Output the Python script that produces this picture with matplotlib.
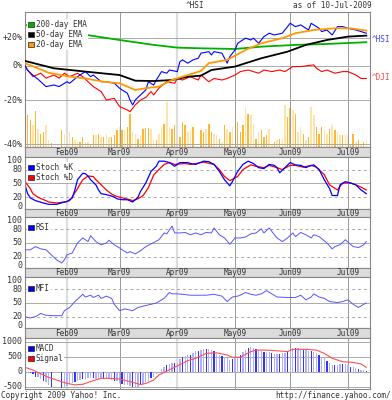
import numpy as np
import pandas as pd
import matplotlib
matplotlib.use('Agg')
import matplotlib.pyplot as plt
import matplotlib.ticker as mticker
from matplotlib.patches import Patch

# trading sessions (weekdays) shown on the x axis
sessions = pd.bdate_range('2009-01-09', '2009-07-10')
month_names = ['Feb09', 'Mar09', 'Apr09', 'May09', 'Jun09', 'Jul09']

# ^HSI and ^DJI, % change since first session
hsi_day = [0, 1, 3, 5, 8, 11, 13, 16, 17, 20, 22, 23, 25, 26, 29, 31, 34, 36, 37, 39, 40, 41, 42,
           44, 46, 47, 49, 50, 52, 54, 55, 58, 59, 60, 62, 64, 66, 67, 70, 71, 72, 75, 77, 78, 80,
           81, 84, 86, 87, 89, 91, 93, 95, 98, 101, 103, 105, 108, 109, 110, 112, 113, 115, 117,
           119, 121, 123, 126, 128, 130]
hsi_pct = [0, -3, -6, -8.5, -12.7, -11.8, -12.7, -9.9, -10.8, -6.9, -4.8, -3.8, -6.9, -5.9, -9.9,
           -9.9, -10.8, -13.6, -14.6, -16.4, -20, -22.5, -20, -17.3, -14.6, -9.9, -11.8, -8.9, -3.8,
           -4.8, -2.8, -3.8, 2.6, 3.8, 1.6, 3.8, 4.9, 8.4, 9.5, 7.2, 9.5, 8.4, 1.6, 6, 10.7, 15.6,
           19.5, 18.1, 19.5, 15.6, 20.7, 23.4, 22, 23.4, 31.6, 28.8, 30.2, 26, 31.6, 30.2, 27.4,
           24.7, 26, 22, 28.8, 28.8, 27.4, 26, 24.7, 23.4]

dji_day = [0, 1, 3, 6, 8, 11, 13, 15, 17, 20, 22, 24, 26, 29, 31, 34, 36, 39, 40, 42, 44, 46, 48,
           49, 51, 54, 57, 58, 60, 63, 66, 67, 70, 72, 75, 77, 80, 82, 85, 87, 89, 91, 94, 97, 99,
           102, 105, 110, 111, 113, 115, 118, 121, 123, 126, 128, 130]
dji_pct = [0, -2.8, -6.9, -4.8, -7.8, -5.9, -7.8, -4.8, -6.9, -4.8, -6.9, -9.9, -12.7, -15.5, -20,
           -19.1, -23.3, -25, -25.8, -22.5, -20, -18.6, -15.5, -17.3, -13.6, -9.9, -10.8, -8, -8.9,
           -6.9, -8.9, -5.9, -9.9, -8, -8.9, -8, -5.9, -3.8, -2.8, -3.8, -4.8, -2.8, -3.8, -2.8,
           -3.8, -0.6, -0.6, 0.5, -1.7, -3.8, -2.8, -4.8, -3.8, -3.8, -5.9, -8, -8]

ema200_day = [0, 10, 21, 36, 49, 58, 67, 80, 90, 103, 115, 130]
ema200_pct = [30.2, 26.5, 22.8, 18.1, 14.4, 12.4, 11.9, 11.4, 13.1, 14.4, 15.1, 16.4]
ema50_day = [0, 11, 23, 36, 42, 49, 56, 62, 67, 71, 80, 90, 100, 107, 115, 123, 130]
ema50_pct = [3.1, -1.7, -3.8, -5.9, -9.3, -9.5, -8.9, -6.9, -6.3, -2.8, -0.6, 4.9, 9.5, 14.4,
             18.1, 20.7, 21.5]
ema20_day = [0, 9, 17, 23, 30, 36, 42, 46, 51, 56, 62, 67, 70, 77, 84, 90, 98, 103, 110, 118,
             124, 130]
ema20_pct = [1.6, -4.5, -6.9, -8, -9.9, -10.8, -14.6, -13.6, -12.7, -8.9, -5.9, -3.4, 1.6, 3.8,
             10.7, 15.6, 19.5, 23.4, 26, 27.4, 27.4, 25.5]

# daily volume (relative units), one per session; tone: d = up day, l = down day
volume = [35, 32, 27, 22, 36, 18, 13, 15, 22, 7, 4, 0, 0, 0,
          17, 13, 8, 15, 10, 7, 5, 5, 10, 5, 5, 3, 12, 12, 13, 10, 10, 13, 10, 10, 12, 17, 20, 17,
          18, 20, 33, 15, 13, 8, 12, 18, 19, 19, 18, 8, 7, 13, 20, 23, 45, 20, 18, 22, 17, 10, 25,
          22, 15, 17, 20, 0, 0,
          17, 15, 18, 23, 15, 13, 12, 8, 5, 22, 18, 15, 20, 0, 25, 15, 22, 40, 33, 32, 23, 8, 15,
          17, 10, 12, 18, 3, 5,
          7, 8, 8, 42, 30, 39, 37, 33, 15, 20, 13, 7, 10, 40, 32, 20, 13, 20, 17, 13, 18, 22, 17,
          15, 12, 12, 13, 12, 3, 13, 5, 7, 3, 5, 7]
volume_tone = ("lddldlddll" "dllldldldl" "lddllddldl" "dlldddldld" "dlldldddll" "dlldllddld"
               "ddlldllddl" "ddlldldldl" "ldddldlldl" "dddlldldll" "ddldlldldl" "ldddlldldl"
               "ldllddldld" "l")

# Stochastic %K / %D
stk_day = [0, 1, 2, 4, 7, 9, 12, 15, 16, 18, 19, 20, 22, 23, 24, 25, 27, 28, 29, 31, 34, 35, 37,
           39, 41, 42, 43, 44, 46, 48, 50, 51, 53, 55, 57, 59, 62, 63, 65, 68, 70, 72, 74, 76, 78,
           79, 81, 83, 85, 87, 89, 91, 93, 95, 96, 97, 99, 101, 103, 105, 107, 108, 110, 112, 114,
           116, 117, 119, 120, 122, 124, 126, 128, 130]
stk_val = [47, 28, 19, 13, 8, 5, 5, 10, 11, 19, 36, 58, 72, 71, 66, 58, 47, 36, 28, 26, 21, 17, 15,
           15, 10, 15, 20, 33, 51, 76, 87, 98, 98, 95, 87, 95, 95, 93, 91, 98, 97, 91, 76, 58, 45,
           54, 76, 91, 98, 93, 84, 82, 91, 89, 84, 73, 84, 95, 90, 89, 84, 87, 90, 80, 58, 39, 24,
           24, 47, 54, 51, 47, 36, 28]
std_day = [0, 2, 3, 5, 8, 9, 12, 15, 17, 18, 20, 22, 24, 26, 27, 29, 31, 33, 35, 37, 40, 41, 43,
           45, 47, 49, 51, 53, 55, 57, 59, 61, 63, 68, 72, 74, 76, 78, 81, 83, 86, 88, 91, 93, 96,
           98, 101, 103, 106, 109, 111, 114, 116, 119, 121, 124, 126, 128, 130]
std_val = [54, 39, 28, 20, 13, 10, 8, 10, 13, 21, 39, 58, 66, 65, 58, 47, 36, 27, 22, 19, 15, 13,
           17, 24, 41, 68, 80, 91, 95, 91, 92, 93, 91, 96, 91, 80, 65, 56, 65, 80, 90, 87, 84, 89,
           84, 80, 89, 89, 85, 89, 85, 69, 47, 36, 51, 51, 47, 42, 36]

# RSI
rsi_day = [0, 2, 4, 6, 8, 10, 12, 14, 15, 16, 18, 20, 22, 24, 25, 27, 29, 31, 32, 34, 36, 37, 39,
           40, 42, 44, 46, 49, 51, 53, 54, 56, 57, 59, 61, 63, 65, 67, 69, 71, 72, 74, 76, 78, 80,
           82, 84, 86, 88, 90, 91, 93, 95, 96, 98, 100, 102, 103, 105, 107, 109, 110, 112, 115,
           117, 118, 120, 122, 125, 127, 129, 130]
rsi_val = [35, 35, 42, 37, 35, 24, 13, 6, 13, 24, 28, 50, 61, 53, 66, 53, 46, 50, 56, 46, 39, 35,
           28, 31, 26, 33, 42, 51, 57, 72, 70, 87, 72, 72, 73, 68, 72, 68, 73, 72, 83, 68, 61, 47,
           61, 61, 63, 70, 72, 81, 72, 83, 68, 61, 53, 61, 72, 64, 73, 68, 61, 68, 64, 50, 37, 42,
           46, 57, 42, 40, 46, 53]

# MFI
mfi_day = [0, 2, 4, 6, 8, 11, 14, 15, 17, 19, 22, 23, 25, 26, 28, 29, 31, 33, 34, 36, 38, 41, 43,
           45, 48, 50, 53, 55, 56, 58, 60, 63, 67, 69, 72, 75, 77, 79, 81, 82, 84, 86, 88, 90, 92,
           94, 96, 100, 103, 105, 107, 109, 110, 112, 114, 116, 119, 121, 123, 125, 127, 129, 130]
mfi_val = [20, 17, 20, 27, 23, 22, 22, 33, 40, 53, 69, 63, 67, 62, 67, 60, 65, 60, 47, 33, 37, 33,
           40, 43, 47, 50, 60, 73, 70, 70, 69, 67, 67, 67, 69, 65, 53, 63, 65, 67, 73, 69, 67, 70,
           77, 70, 63, 62, 62, 67, 57, 63, 70, 63, 60, 53, 51, 53, 57, 47, 40, 47, 50]

# MACD histogram (one per session) and signal line
nan = np.nan
macd = [-30, -50, -60, -90, -165, -190, -260, -300, -360, -440,
        -500, nan, nan, nan, -555, -520, -470, -420, -390, -330,
        -310, -270, -255, -230, -220, -210, -220, -230, -240, -255,
        -255, -260, -260, -280, -300, -320, -380, -400, -430, -460,
        -480, -500, -510, -520, -460, -400, -340, -300, -220, -170,
        -90, -20, 90, 160, 220, 260, 280, 280, 300, 420,
        480, 520, 560, 560, 630, 680, 700, 720, 740, 740,
        740, 720, 700, 600, 560, 520, 480, 450, 400, 430,
        460, 500, 560, 640, 720, 780, 810, 780, 740, 720,
        690, 670, 650, 640, 620, 600, 600, 600, 610, 620,
        650, 720, 780, 800, 790, 770, 720, 740, 700, 690,
        670, 620, 560, 500, 440, 350, 290, 230, 220, 230,
        250, 250, 240, 220, 170, 140, 110, 80, 60, 40,
        10]
macd_tone = ("lldddlldll" "dllldlllld" "lldllldlll" "dllldlldll" "ldlldllldl" "ldlldlldll"
             "dlldlldlld" "lldlldllld" "lldlldlldl" "ldlldlldll" "dlldlldlld" "lldlldlldl"
             "ldlldlldll" "d")
signal_day = [0, 3, 9, 16, 19, 22, 26, 29, 32, 36, 40, 44, 46, 49, 51, 54, 58, 62, 65, 69, 73, 77,
              79, 82, 86, 88, 92, 97, 100, 102, 107, 111, 114, 117, 121, 125, 128, 130]
signal_val = [147, 55, -190, -390, -440, -420, -300, -220, -220, -245, -330, -430, -390, -280,
              -110, 20, 190, 370, 445, 610, 630, 555, 480, 480, 670, 720, 720, 690, 670, 745, 745,
              720, 610, 445, 333, 310, 255, 144]

# ---------------------------------------------------------------------------
W, H = 392, 400
TXT = '#333333'
GRID = '#aaaaaa'
plt.rcParams['font.family'] = 'DejaVu Sans Mono'


def box(l, t, r, b):
    return [l / W, 1 - b / H, (r - l) / W, (b - t) / H]


days = np.arange(len(sessions))
month_pos = [i for i in range(1, len(sessions)) if sessions[i].month != sessions[i - 1].month]
XMAX = 131.4

fig = plt.figure(figsize=(W / 100, H / 100), dpi=100)
fig.patch.set_facecolor('white')


def month_grid(a):
    for k, m in enumerate(month_pos):
        if k in (0, 2):
            a.axvline(m, color='#dddddd', lw=1.6, zorder=0)
        else:
            a.axvline(m, color='#999999', lw=0.7, zorder=0)


def style(a):
    a.set_xlim(0, XMAX)
    a.set_xticks([])
    for s in a.spines.values():
        s.set_color('#888888')
        s.set_linewidth(0.8)


def ylabels(a, vals, texts):
    # tick labels drawn to the left of the panel, right-aligned
    a.set_yticks([])
    tr = a.get_yaxis_transform()
    for v, t in zip(vals, texts):
        a.text(-0.008, v, t, transform=tr, ha='right', va='center', fontsize=6, color=TXT)


def key(a, items, y0):
    handles = [Patch(facecolor=c, edgecolor='#222222', linewidth=0.5) for c, _ in items]
    leg = a.legend(handles, [t for _, t in items], loc='upper left', bbox_to_anchor=(0.0, y0),
                   fontsize=5.6, frameon=True, fancybox=False, framealpha=1,
                   facecolor='white', edgecolor='none', handlelength=0.7, handleheight=0.7,
                   handletextpad=0.3, labelspacing=0.12, borderpad=0.1, borderaxespad=0.3)
    for t in leg.get_texts():
        t.set_color(TXT)
    leg.set_zorder(5)


def strip(t, b):
    s = fig.add_axes(box(25, t, 370, b))
    s.set_facecolor('#dcdcdc')
    s.set_xlim(0, XMAX)
    s.set_ylim(0, 1)
    s.set_xticks([])
    s.set_yticks([])
    for sp in s.spines.values():
        sp.set_color('#888888')
        sp.set_linewidth(0.8)
    for m, name in zip(month_pos, month_names):
        s.text(m, 0.45, name, ha='center', va='center', fontsize=5.5, color=TXT)


# main price panel: volume underneath, prices on a log % scale
axv = fig.add_axes(box(25, 12, 370, 147))
axv.set_xlim(0, XMAX)
axv.set_ylim(0, 135)
axv.bar(days, volume, width=0.55, linewidth=0,
        color=['#ffb733' if c == 'd' else '#ffe3a8' for c in volume_tone])
axv.axis('off')

ax = fig.add_axes(box(25, 12, 370, 147), facecolor='none')
style(ax)
ax.set_yscale('log')
ax.set_ylim(0.59, 1.416)
ax.yaxis.set_minor_locator(mticker.NullLocator())
pct_ticks = [0.6, 0.8, 1.0, 1.2]
ylabels(ax, pct_ticks, ['-40%', '-20%', '0%', '+20%'])
month_grid(ax)
for v in pct_ticks:
    ax.axhline(v, color=GRID, lw=0.7, zorder=0)
ratio = lambda p: 1 + np.array(p) / 100
ax.plot(ema200_day, ratio(ema200_pct), color='#00b000', lw=1.3, zorder=2)
ax.plot(dji_day, ratio(dji_pct), color='#ff0000', lw=0.8, zorder=2)
ax.plot(hsi_day, ratio(hsi_pct), color='#0000ff', lw=0.8, zorder=3)
ax.plot(ema50_day, ratio(ema50_pct), color='#000000', lw=1.3, zorder=3)
ax.plot(ema20_day, ratio(ema20_pct), color='#ff9900', lw=1.3, zorder=3)
key(ax, [('#00b000', '200-day EMA'), ('#000000', '50-day EMA'), ('#ff9900', '20-day EMA')], 0.963)

fig.text(195 / W, 1 - 5 / H, '^HSI', ha='center', va='center', fontsize=5.6, color=TXT)
fig.text(372 / W, 1 - 5 / H, 'as of 10-Jul-2009', ha='right', va='center', fontsize=5.6,
         color=TXT)
fig.text(372 / W, 1 - 40 / H, '^HSI', ha='left', va='center', fontsize=5.6, color='#4444ff')
fig.text(372 / W, 1 - 77 / H, '^DJI', ha='left', va='center', fontsize=5.6, color='#ff4444')

strip(147, 157)


def oscillator(t, b):
    a = fig.add_axes(box(25, t, 370, b))
    style(a)
    a.set_ylim(-5, 107)
    ylabels(a, [0, 20, 50, 80, 100], ['0', '20', '50', '80', '100'])
    month_grid(a)
    a.axhline(50, color=GRID, lw=0.7, zorder=0)
    for v in (20, 80):
        a.axhline(v, color=GRID, lw=0.7, ls=(0, (3, 3)), zorder=0)
    return a


st = oscillator(157, 209)
st.plot(std_day, std_val, color='#ff0000', lw=0.9)
st.plot(stk_day, stk_val, color='#0000ff', lw=0.9)
key(st, [('#0000ff', 'Stoch %K'), ('#ff0000', 'Stoch %D')], 0.94)
strip(209, 217)

rs = oscillator(217, 268)
rs.plot(rsi_day, rsi_val, color='#5555ff', lw=0.7)
key(rs, [('#0000ff', 'RSI')], 0.94)
strip(268, 277)

mf = oscillator(277, 328)
mf.plot(mfi_day, mfi_val, color='#5555ff', lw=0.7)
key(mf, [('#0000ff', 'MFI')], 0.92)
strip(328, 338)

mc = fig.add_axes(box(25, 338, 370, 389))
style(mc)
mc.set_ylim(-577, 1123)
ylabels(mc, [-500, 0, 500, 1000], ['-500', '0', '500', '1000'])
month_grid(mc)
for v in (-500, 0, 500, 1000):
    mc.axhline(v, color=GRID, lw=0.7, zorder=0)
mc.bar(days, macd, width=0.5, linewidth=0,
       color=['#3333ff' if c == 'd' else '#b0b0ff' for c in macd_tone], zorder=1)
mc.plot(signal_day, signal_val, color='#ff5050', lw=0.8, zorder=2)
key(mc, [('#0000ff', 'MACD'), ('#ff0000', 'Signal')], 0.94)

fig.text(0.002, 1 - 396 / H, 'Copyright 2009 Yahoo! Inc.', ha='left', va='center',
         fontsize=5.6, color=TXT)
fig.text(0.998, 1 - 396 / H, 'http://finance.yahoo.com/', ha='right', va='center',
         fontsize=5.6, color=TXT)

fig.savefig('out.png', dpi=100, facecolor='white')
